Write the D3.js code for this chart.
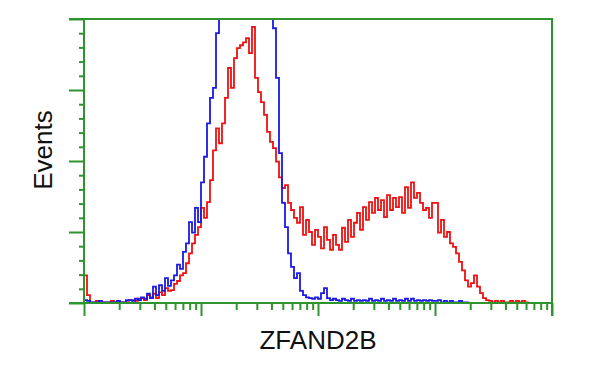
<!DOCTYPE html>
<html>
<head>
<meta charset="utf-8">
<script src="https://cdn.jsdelivr.net/npm/d3@7"></script>
<style>
  html, body { margin: 0; padding: 0; background: #fff; }
  svg { display: block; }
</style>
</head>
<body>
<svg id="chart" width="600" height="375"></svg>
<script>
// ---- data (histogram counts per log-spaced channel bin, 39 bins per decade, 1..10^4) ----
const binsPerDecade = 39;
const decades = [1, 10, 100, 1000, 10000];
const minorTicksY = [20, 40, 60, 80, 120, 140, 160, 180, 220, 240, 260, 280, 320, 340, 360, 380];
const majorTicksY = [0, 100, 200, 300, 400];
const xLabel = "ZFAND2B";
const yLabel = "Events";

const controlCounts = [ // blue (isotype control)
  4,3,
  1,1,1,3,1,1,1,1,1,3,1,1,
  4,4,3,6,4,8,6,13,7,23,11,25,17,35,24,32,39,54,48,72,
  84,114,99,134,114,170,206,253,289,303,380,465,535,563,591,605,620,627,620,605,591,563,535,
  507,479,451,422,415,408,387,317,211,141,107,70,51,35,42,17,11,8,7,6,8,6,14,21,
  7,4,6,4,3,6,4,3,6,3,4,3,4,3,6,3,4,3,6,3,
  4,3,6,3,4,3,6,3,6,3,4,3,4,3,4,3,3,4,1,3,
  1,3,1,1,3,1,1,0,0,0,0,0,0,0,
  0,0,0,0,0,0,0,0,0,0,0,0,0,0,0,0,0,0,0,0,0
];
const stainedCounts = [ // red (ZFAND2B antibody)
  39,11,
  1,1,3,1,1,1,1,3,1,1,1,1,
  3,4,4,3,6,7,4,11,8,13,7,15,11,21,17,18,27,31,39,42,
  56,70,84,96,107,134,120,142,173,215,246,225,253,289,331,303,345,359,363,367,373,352,389,
  317,297,283,265,241,227,218,199,177,162,166,141,131,120,113,135,96,117,100,82,103,93,77,107,
  89,75,96,82,75,106,86,117,93,113,127,103,135,117,142,127,148,131,145,121,
  152,131,148,135,149,127,163,134,170,148,155,141,131,134,120,141,141,99,117,93,
  100,84,79,70,58,46,32,23,28,39,23,14,7,4,
  3,1,3,1,3,1,1,3,1,3,1,3,1,
  0,0,0,0,0,0,0,0
];

// ---- layout ----
const svg = d3.select("#chart");
const mLeft = 84, mRight = 552, mTop = 19, mBottom = 303;
const green = "#2e952e";

const x = d3.scaleLog().domain([1, 10000]).range([mLeft, mRight]);
const y = d3.scaleLinear().domain([0, 400]).range([mBottom, mTop]);

// bin left edges
const edges = d3.range(controlCounts.length + 1).map(i => Math.pow(10, i / binsPerDecade));
function series(counts) {
  const pts = counts.map((c, i) => [edges[i], c]);
  pts.push([edges[counts.length], counts[counts.length - 1]]);
  return pts;
}

svg.append("defs").append("clipPath").attr("id", "plotclip")
  .append("rect").attr("x", mLeft).attr("y", mTop).attr("width", mRight - mLeft).attr("height", mBottom - mTop + 1);

const line = d3.line().x(d => x(d[0])).y(d => y(d[1])).curve(d3.curveStepAfter);

const g = svg.append("g").attr("clip-path", "url(#plotclip)");
g.append("path").datum(series(stainedCounts))
  .attr("d", line).attr("fill", "none").attr("stroke", "#ee1111").attr("stroke-width", 1.8);
g.append("path").datum(series(controlCounts))
  .attr("d", line).attr("fill", "none").attr("stroke", "#1a1ae6").attr("stroke-width", 1.8);

// ---- axes ----
function styleAxis(sel) {
  sel.select(".domain").remove();
  sel.selectAll(".tick line").attr("stroke", green).attr("stroke-width", 2);
  sel.selectAll(".tick text").remove();
}
svg.append("g").attr("transform", `translate(${mLeft},0)`)
  .call(d3.axisLeft(y).tickValues(majorTicksY).tickSize(15).tickFormat(""))
  .call(styleAxis);
svg.append("g").attr("transform", `translate(${mLeft},0)`)
  .call(d3.axisLeft(y).tickValues(minorTicksY).tickSize(5).tickFormat(""))
  .call(styleAxis);

const minorX = [];
decades.slice(0, -1).forEach(d => { for (let k = 2; k <= 9; k++) minorX.push(d * k); });
svg.append("g").attr("transform", `translate(0,${mBottom})`)
  .call(d3.axisBottom(x).tickValues(decades).tickSize(13).tickFormat(""))
  .call(styleAxis);
svg.append("g").attr("transform", `translate(0,${mBottom})`)
  .call(d3.axisBottom(x).tickValues(minorX).tickSize(7).tickFormat(""))
  .call(styleAxis);

// frame lines
const frame = svg.append("g").attr("stroke", green).attr("stroke-width", 2).attr("fill", "none");
frame.append("line").attr("x1", mLeft - 15).attr("x2", mRight + 1).attr("y1", mTop).attr("y2", mTop);
frame.append("line").attr("x1", mLeft - 15).attr("x2", mRight + 1).attr("y1", mBottom).attr("y2", mBottom);
frame.append("line").attr("x1", mLeft).attr("x2", mLeft).attr("y1", mTop).attr("y2", mBottom);
frame.append("line").attr("x1", mRight).attr("x2", mRight).attr("y1", mTop).attr("y2", mBottom + 13);

// labels
svg.append("text").attr("x", 318).attr("y", 349)
  .attr("text-anchor", "middle")
  .attr("font-family", "Liberation Sans, Arial, sans-serif")
  .attr("font-size", 26).attr("fill", "#111").text(xLabel);
svg.append("text").attr("transform", "translate(52,150) rotate(-90)")
  .attr("text-anchor", "middle")
  .attr("font-family", "Liberation Sans, Arial, sans-serif")
  .attr("font-size", 26).attr("fill", "#111").text(yLabel);
</script>
</body>
</html>
